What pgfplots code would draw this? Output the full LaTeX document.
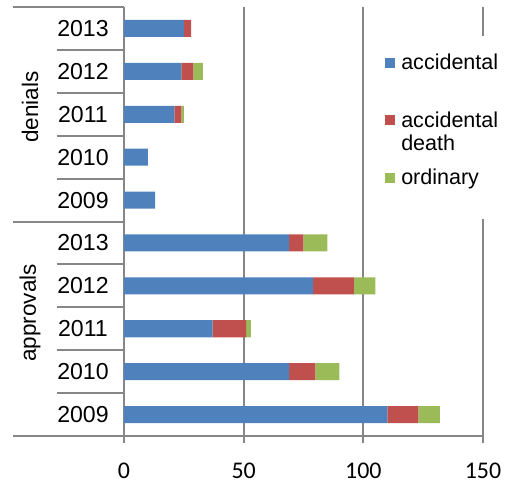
\documentclass[border=0pt]{standalone}
\usepackage{fontspec}
\setmainfont{Liberation Sans}
\newfontfamily\calibri{Carlito}
\usepackage{pgfplots}
\pgfplotsset{compat=1.18}
\definecolor{cblue}{HTML}{4F81BD}
\definecolor{cred}{HTML}{C0504D}
\definecolor{cgreen}{HTML}{9BBB59}
\definecolor{axgray}{HTML}{868686}
\begin{document}
\begin{tikzpicture}
\begin{axis}[
  at={(0,0)}, anchor=south west,
  scale only axis, width=179.5bp, height=214.5bp,
  xbar stacked, bar width=8.5bp,
  xmin=0, xmax=150, ymin=-0.5, ymax=9.5,
  xtick={0,50,100,150},
  ytick={0,...,9},
  yticklabels={2009,2010,2011,2012,2013,2009,2010,2011,2012,2013},
  /pgf/number format/assume math mode=true,
  axis x line*=bottom, axis y line*=left,
  axis line style={axgray, line width=1bp, -},
  xmajorgrids, grid style={axgray, line width=1bp},
  x tick style={axgray, line width=1bp},
  tick align=outside, major tick length=3.5bp,
  y tick style={draw=none},
  xticklabel style={font=\calibri\fontsize{12}{14}\selectfont, yshift=-6.5bp},
  yticklabel style={font=\fontsize{11.6}{13}\selectfont, anchor=center, xshift=-17bp},
  clip=false,
  legend style={at={(rel axis cs:0.72,0.934)}, anchor=north west, draw=none, fill=white,
    font=\fontsize{10.8}{11.5}\selectfont, row sep=8.75bp, inner xsep=1bp, inner ysep=7bp,
    nodes={inner xsep=3bp, inner ysep=2bp, text height=8bp, text depth=8bp}},
  legend cell align=left,
  legend image code/.code={\fill[#1, draw=none] (0bp,0.9bp) rectangle (5.2bp,6.1bp);},
]
\addplot[fill=cblue, draw=none] coordinates {(110,0) (69,1) (37,2) (79,3) (69,4) (13,5) (10,6) (21,7) (24,8) (25,9)};
\addplot[fill=cred, draw=none] coordinates {(13,0) (11,1) (14,2) (17,3) (6,4) (0,5) (0,6) (3,7) (5,8) (3,9)};
\addplot[fill=cgreen, draw=none] coordinates {(9,0) (10,1) (2,2) (9,3) (10,4) (0,5) (0,6) (1,7) (4,8) (0,9)};
\legend{accidental, {\vtop{\hbox{accidental}\hbox{death}}}, ordinary}
\pgfplotsinvokeforeach{-0.5,4.5,9.5}{
  \draw[axgray, line width=1bp] ([xshift=-55.5bp]axis cs:0,#1) -- (axis cs:0,#1);
}
\pgfplotsinvokeforeach{0.5,1.5,2.5,3.5,5.5,6.5,7.5,8.5}{
  \draw[axgray, line width=1bp] ([xshift=-33.5bp]axis cs:0,#1) -- (axis cs:0,#1);
}
\node[rotate=90, font=\fontsize{11.3}{13}\selectfont] at ([xshift=-47bp]axis cs:0,7.17) {denials};
\node[rotate=90, font=\fontsize{11.3}{13}\selectfont] at ([xshift=-47bp]axis cs:0,2.37) {approvals};
\end{axis}
\pgfresetboundingbox
\path (-62bp,-23.5bp) rectangle (190.5bp,218bp);
\end{tikzpicture}
\end{document}
